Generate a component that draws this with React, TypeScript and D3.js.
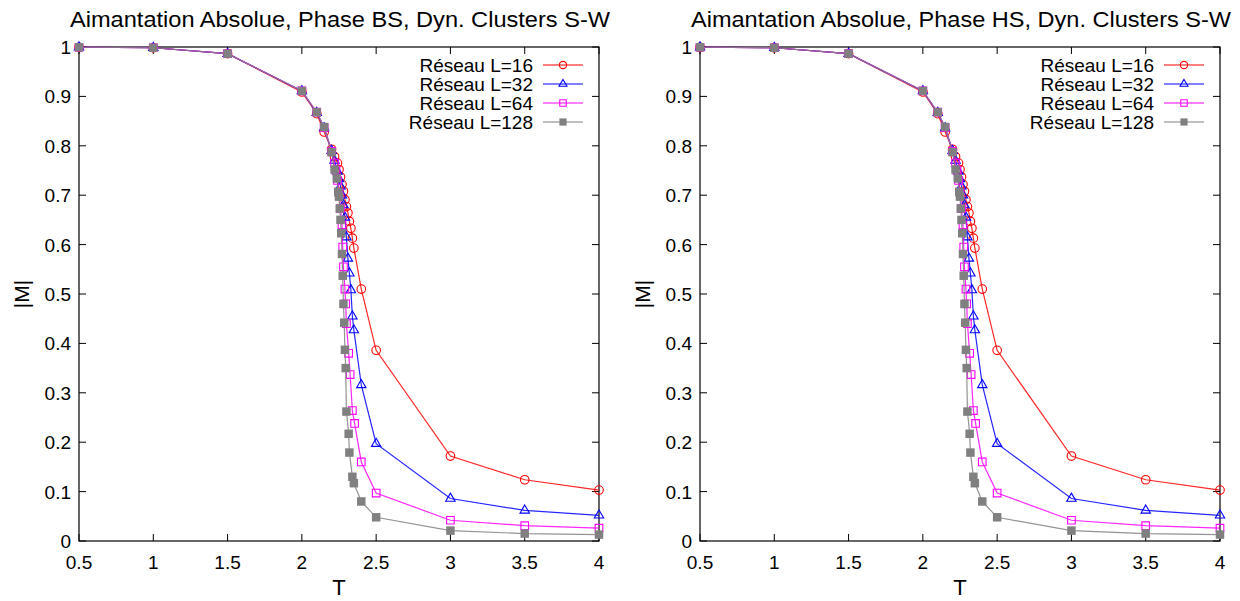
import React, { useRef, useEffect } from 'react';
import * as d3 from 'd3';

// axis ticks
const X_TICKS = [0.5, 1, 1.5, 2, 2.5, 3, 3.5, 4];
const Y_TICKS = [0, 0.1, 0.2, 0.3, 0.4, 0.5, 0.6, 0.7, 0.8, 0.9, 1];

// L=16
const T_L16 = [0.5, 1, 1.5, 2, 2.1, 2.15, 2.2, 2.22, 2.24, 2.25, 2.26, 2.27, 2.28, 2.29, 2.3, 2.31, 2.32, 2.33, 2.34, 2.35, 2.4, 2.5, 3, 3.5, 4];
const M_L16 = [0.9995, 0.9985, 0.9865, 0.909, 0.865, 0.828, 0.793, 0.778, 0.765, 0.752, 0.737, 0.722, 0.708, 0.691, 0.677, 0.664, 0.647, 0.633, 0.613, 0.593, 0.51, 0.386, 0.172, 0.124, 0.103];

// L=32
const T_L32 = [0.5, 1, 1.5, 2, 2.1, 2.15, 2.2, 2.22, 2.24, 2.25, 2.26, 2.27, 2.28, 2.29, 2.3, 2.31, 2.32, 2.33, 2.34, 2.35, 2.4, 2.5, 3, 3.5, 4];
const M_L32 = [0.9995, 0.9985, 0.9865, 0.911, 0.867, 0.836, 0.79, 0.77, 0.748, 0.733, 0.718, 0.7, 0.68, 0.655, 0.615, 0.572, 0.542, 0.508, 0.455, 0.427, 0.316, 0.197, 0.086, 0.062, 0.052];

// L=64
const T_L64 = [0.5, 1, 1.5, 2, 2.1, 2.15, 2.2, 2.22, 2.23, 2.24, 2.25, 2.26, 2.27, 2.275, 2.28, 2.29, 2.295, 2.3, 2.315, 2.325, 2.34, 2.355, 2.4, 2.5, 3, 3.5, 4];
const M_L64 = [0.9995, 0.9985, 0.9865, 0.911, 0.868, 0.837, 0.789, 0.765, 0.75, 0.73, 0.705, 0.673, 0.64, 0.595, 0.555, 0.51, 0.48, 0.44, 0.38, 0.337, 0.264, 0.238, 0.16, 0.097, 0.042, 0.031, 0.026];

// L=128
const T_L128 = [0.5, 1, 1.5, 2, 2.1, 2.15, 2.2, 2.22, 2.235, 2.245, 2.25, 2.255, 2.26, 2.265, 2.27, 2.275, 2.28, 2.285, 2.29, 2.295, 2.3, 2.315, 2.32, 2.34, 2.35, 2.4, 2.5, 3, 3.5, 4];
const M_L128 = [0.9995, 0.9985, 0.9865, 0.911, 0.868, 0.838, 0.787, 0.752, 0.734, 0.707, 0.697, 0.673, 0.65, 0.623, 0.581, 0.537, 0.48, 0.442, 0.387, 0.35, 0.262, 0.217, 0.179, 0.13, 0.117, 0.08, 0.048, 0.021, 0.015, 0.013];

const SERIES_LABELS = ['Réseau L=16', 'Réseau L=32', 'Réseau L=64', 'Réseau L=128'];
const SERIES_COLORS = ['#ff0000', '#0000ff', '#ff00ff', '#808080'];
const SERIES_MARKERS = ['circle', 'triangle', 'square', 'filledSquare'];
const PANEL_TITLES = [
  'Aimantation Absolue, Phase BS, Dyn. Clusters S-W',
  'Aimantation Absolue, Phase HS, Dyn. Clusters S-W',
];

const series = [
  { t: T_L16, m: M_L16 },
  { t: T_L32, m: M_L32 },
  { t: T_L64, m: M_L64 },
  { t: T_L128, m: M_L128 },
].map((s, i) => ({
  points: s.t.map((t, j) => ({ t, m: s.m[j] })),
  label: SERIES_LABELS[i],
  color: SERIES_COLORS[i],
  marker: SERIES_MARKERS[i],
}));

const FONT = "'Liberation Sans', Arial, sans-serif";

const drawMarker = (g, kind, color, cx, cy, scale = 1) => {
  if (kind === 'circle') {
    g.append('circle').attr('cx', cx).attr('cy', cy).attr('r', 4.3 * scale)
      .attr('fill', 'none').attr('stroke', color).attr('stroke-width', 1.1);
  } else if (kind === 'triangle') {
    g.append('path').attr('d', d3.symbol().type(d3.symbolTriangle).size(38 * scale * scale)())
      .attr('transform', `translate(${cx},${cy})`)
      .attr('fill', 'none').attr('stroke', color).attr('stroke-width', 1.1);
  } else if (kind === 'square') {
    g.append('path').attr('d', d3.symbol().type(d3.symbolSquare).size(58 * scale * scale)())
      .attr('transform', `translate(${cx},${cy})`)
      .attr('fill', 'none').attr('stroke', color).attr('stroke-width', 1.1);
  } else {
    g.append('path').attr('d', d3.symbol().type(d3.symbolSquare).size(72 * scale * scale)())
      .attr('transform', `translate(${cx},${cy})`)
      .attr('fill', color);
  }
};

const Panel = ({ left, title }) => {
  const ref = useRef(null);

  useEffect(() => {
    const g = d3.select(ref.current);
    g.selectAll('*').remove();

    const width = 520;
    const top = 47;
    const bottom = 541;
    const x = d3.scaleLinear().domain([0.5, 4]).range([left, left + width]);
    const y = d3.scaleLinear().domain([0, 1]).range([bottom, top]);

    // title
    g.append('text')
      .attr('x', left + width / 2 + 1)
      .attr('y', 27)
      .attr('text-anchor', 'middle')
      .attr('font-family', FONT)
      .attr('font-size', 22)
      .attr('textLength', 540)
      .attr('lengthAdjust', 'spacingAndGlyphs')
      .text(title);

    // ticks, mirrored on all sides
    X_TICKS.forEach((t) => {
      g.append('line').attr('x1', x(t)).attr('x2', x(t)).attr('y1', bottom).attr('y2', bottom - 7)
        .attr('stroke', '#000');
      g.append('line').attr('x1', x(t)).attr('x2', x(t)).attr('y1', top).attr('y2', top + 7)
        .attr('stroke', '#000');
      g.append('text').attr('x', x(t)).attr('y', 569)
        .attr('text-anchor', 'middle').attr('font-family', FONT).attr('font-size', 19)
        .text(String(t));
    });
    Y_TICKS.forEach((v) => {
      g.append('line').attr('x1', left).attr('x2', left + 7).attr('y1', y(v)).attr('y2', y(v))
        .attr('stroke', '#000');
      g.append('line').attr('x1', left + width).attr('x2', left + width - 7).attr('y1', y(v)).attr('y2', y(v))
        .attr('stroke', '#000');
      g.append('text').attr('x', left - 8).attr('y', y(v) + 7)
        .attr('text-anchor', 'end').attr('font-family', FONT).attr('font-size', 19)
        .text(String(Math.round(v * 10) / 10));
    });

    // frame
    g.append('rect').attr('x', left).attr('y', top).attr('width', width).attr('height', bottom - top)
      .attr('fill', 'none').attr('stroke', '#000').attr('stroke-width', 1.2);

    // axis labels
    g.append('text').attr('x', left + width / 2).attr('y', 595)
      .attr('text-anchor', 'middle').attr('font-family', FONT).attr('font-size', 22).text('T');
    g.append('text')
      .attr('transform', `translate(${left - 50},${(top + bottom) / 2}) rotate(-90)`)
      .attr('text-anchor', 'middle').attr('font-family', FONT).attr('font-size', 21).text('|M|');

    // series
    const line = d3.line().x((d) => x(d.t)).y((d) => y(d.m));
    series.forEach((s) => {
      g.append('path').attr('d', line(s.points))
        .attr('fill', 'none').attr('stroke', s.color).attr('stroke-width', 1.2).attr('opacity', 0.85);
      s.points.forEach((p) => drawMarker(g, s.marker, s.color, x(p.t), y(p.m)));
    });

    // legend
    series.forEach((s, i) => {
      const ly = 65 + i * 19;
      g.append('text').attr('x', left + 454).attr('y', ly + 7)
        .attr('text-anchor', 'end').attr('font-family', FONT).attr('font-size', 19)
        .text(s.label);
      g.append('line').attr('x1', left + 464).attr('x2', left + 504).attr('y1', ly).attr('y2', ly)
        .attr('stroke', s.color).attr('stroke-width', 1.2);
      drawMarker(g, s.marker, s.color, left + 484, ly, 0.85);
    });
  }, [left, title]);

  return <g ref={ref} />;
};

export default function App() {
  return (
    <svg width="1240" height="601" style={{ position: 'absolute', left: 0, top: 0, background: '#fff' }}>
      <rect width="1240" height="601" fill="#fff" />
      <Panel left={79} title={PANEL_TITLES[0]} />
      <Panel left={700} title={PANEL_TITLES[1]} />
    </svg>
  );
}
